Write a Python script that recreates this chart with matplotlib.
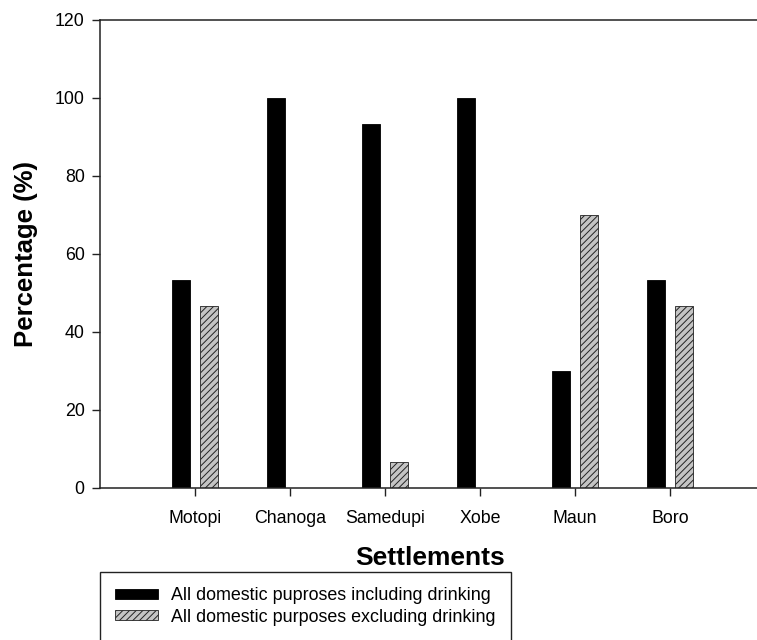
import matplotlib
matplotlib.use("Agg")
import numpy as np
from matplotlib import pyplot as plt

settlements = ["Motopi", "Chanoga", "Samedupi", "Xobe", "Maun", "Boro"]
including_drinking = [53.3, 100, 93.3, 100, 30, 53.3]
excluding_drinking = [46.7, 0, 6.7, 0, 70, 46.7]
y_ticks = [0, 20, 40, 60, 80, 100, 120]

plt.rcParams["font.family"] = ["Liberation Sans", "DejaVu Sans"]
plt.rcParams["hatch.linewidth"] = 0.7

fig = plt.figure(figsize=(7.57, 6.4), dpi=100)
ax = fig.add_axes([100 / 757, 1 - 488 / 640, 665 / 757, 468 / 640])

x = np.arange(len(settlements))
w = 0.19
ax.bar(x - 0.147, including_drinking, w, color="black", edgecolor="black",
       linewidth=0.6, label="All domestic puproses including drinking")
ax.bar(x + 0.147, excluding_drinking, w, color="#c4c4c4", edgecolor="#222222",
       linewidth=0.6, hatch="/////", label="All domestic purposes excluding drinking")

ax.set_xlim(-1, 6)
ax.set_ylim(0, 120)
ax.set_xticks(x)
ax.set_xticklabels(settlements)
ax.set_yticks(y_ticks)
ax.tick_params(labelsize=12.8, direction="out", length=6, width=1, colors="#222222",
               labelcolor="black", pad=5)
ax.tick_params(axis="x", pad=10)
for side in ["left", "bottom", "top"]:
    ax.spines[side].set_color("#222222")
    ax.spines[side].set_linewidth(1.1)
ax.spines["right"].set_visible(False)

ax.set_ylabel("Percentage (%)", fontsize=18.5, fontweight="bold", labelpad=12)
fig.text(430 / 757, 1 - 558 / 640, "Settlements", fontsize=19, fontweight="bold",
         ha="center", va="center")

fig.legend(loc="upper left", bbox_to_anchor=(100 / 757, 1 - 572 / 640),
           borderaxespad=0, fontsize=12.9, frameon=True, fancybox=False,
           edgecolor="#222222", framealpha=1, borderpad=0.85, labelspacing=0.25,
           handlelength=2.4, handleheight=0.5, handletextpad=0.7)

fig.savefig("out.png", dpi=100)
